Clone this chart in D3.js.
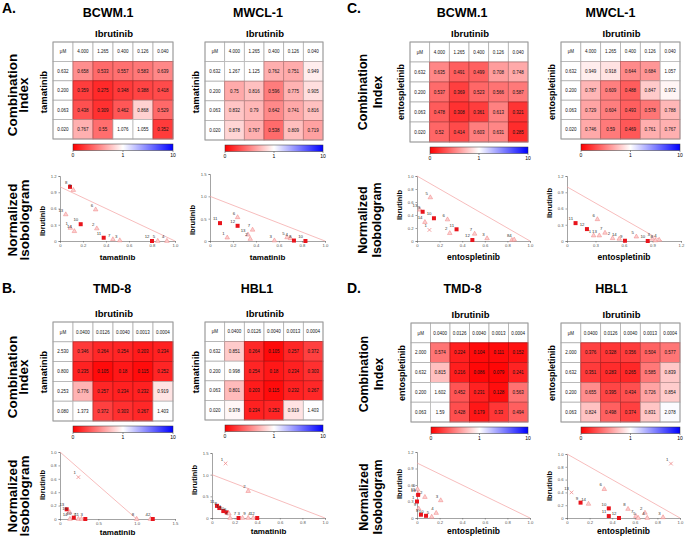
<!DOCTYPE html>
<html><head><meta charset="utf-8">
<script src="https://cdn.jsdelivr.net/npm/d3@7"></script>
<style>body{margin:0;background:#fff}svg{display:block;font-family:"Liberation Sans",Arial,sans-serif}</style>
</head><body>
<svg id="c" width="685" height="538"></svg>
<script>
// ---------- DATA ----------
const ibrColsTop = ["4.000","1.265","0.400","0.126","0.040"];
const ibrColsBot = ["0.0400","0.0126","0.0040","0.0013","0.0004"];
const tamRowsA = ["0.632","0.200","0.063","0.020"];
const entoRowsC = ["0.632","0.200","0.063","0.020"];
const tamRowsB_TMD = ["2.530","0.800","0.253","0.080"];
const tamRowsB_HBL = ["0.632","0.200","0.063","0.020"];
const entoRowsD = ["2.000","0.632","0.200","0.063"];

const ciA_BCWM = [[0.658,0.533,0.557,0.583,0.639],[0.359,0.275,0.348,0.388,0.418],[0.438,0.309,0.462,0.868,0.529],[0.767,0.55,1.076,1.055,0.352]];
const ciA_MWCL = [[1.267,1.125,0.762,0.751,0.949],[0.75,0.816,0.596,0.775,0.905],[0.832,0.79,0.642,0.741,0.816],[0.878,0.767,0.538,0.809,0.719]];
const ciC_BCWM = [[0.635,0.491,0.499,0.708,0.748],[0.537,0.369,0.523,0.566,0.587],[0.478,0.308,0.361,0.613,0.321],[0.52,0.414,0.603,0.631,0.285]];
const ciC_MWCL = [[0.949,0.918,0.644,0.684,1.057],[0.787,0.609,0.488,0.847,0.972],[0.729,0.604,0.493,0.578,0.788],[0.746,0.59,0.469,0.761,0.767]];
const ciB_TMD = [[0.346,0.264,0.254,0.203,0.234],[0.235,0.105,0.18,0.115,0.252],[0.776,0.257,0.234,0.232,0.919],[1.373,0.372,0.303,0.267,1.403]];
const ciB_HBL = [[0.851,0.264,0.105,0.257,0.372],[0.998,0.254,0.18,0.234,0.303],[0.801,0.203,0.115,0.232,0.267],[0.978,0.234,0.252,0.919,1.403]];
const ciD_TMD = [[0.574,0.224,0.104,0.111,0.152],[0.815,0.216,0.086,0.079,0.241],[1.602,0.452,0.231,0.128,0.563],[1.59,0.428,0.179,0.33,0.494]];
const ciD_HBL = [[0.376,0.328,0.356,0.504,0.577],[0.351,0.283,0.265,0.585,0.839],[0.655,0.395,0.434,0.726,0.854],[0.824,0.498,0.374,0.831,2.078]];

const cbarTicks = [0,1,10];

// isobologram points: [label, x, y, type]  type 1=filled square, 0=open triangle, 2=cross
const isoA_BCWM = [["8",0.087,1.0,1],["9",0.116,0.94,0],["6",0.31,0.58,0],["13",0.05,0.49,0],["10",0.18,0.31,1],["1",0.09,0.24,0],["14",0.125,0.18,0],["2",0.32,0.23,0],["11",0.38,0.06,1],["7",0.46,0.03,0],["3",0.52,0.01,0],["12",0.80,0.0,1],["5",0.85,0.0,0],["4",0.93,0.0,0]];
const isoA_MWCL = [["11",0.087,0.40,1],["6",0.24,0.53,0],["12",0.24,0.34,1],["7",0.37,0.25,0],["13",0.33,0.14,0],["1",0.15,0.075,0],["2",0.35,0.045,0],["3",0.56,0.01,0],["5",0.67,0.08,0],["4",0.70,0.06,0],["8",0.73,0.01,1],["10",0.83,0.0,1]];
const isoC_BCWM = [["5",0.118,0.67,0],["13",0.025,0.48,0],["9",0.05,0.45,1],["10",0.15,0.35,1],["6",0.27,0.33,0],["14",0.07,0.29,0],["1",0.11,0.17,2],["2",0.29,0.12,0],["11",0.35,0.18,1],["7",0.51,0.11,0],["12",0.49,0.015,1],["3",0.62,0.04,0],["8",0.84,0.015,0],["4",0.86,0.02,0]];
const isoC_MWCL = [["11",0.09,0.33,1],["6",0.32,0.40,0],["12",0.21,0.22,1],["1",0.28,0.10,0],["13",0.34,0.10,0],["7",0.40,0.15,0],["2",0.48,0.05,0],["14",0.55,0.04,0],["9",0.61,0.005,1],["5",0.73,0.08,0],["10",0.85,0.0,1],["3",0.90,0.04,0],["8",0.93,0.01,0],["4",0.97,0.02,0]];
const isoB_TMD = [["1",0.24,0.625,2],["13",0.087,0.145,1],["16",0.125,0.10,0],["14",0.13,0.0,0],["10",0.18,0.02,1],["7",0.24,0.0,0],["11",0.28,0.0,0],["3",0.33,0.0,1],["8",1.0,0.0,0],["4",1.18,0.0,0],["2",1.21,0.0,1]];
const isoB_HBL = [["1",0.12,1.26,2],["2",0.32,0.62,0],["11",0.044,0.28,1],["8",0.065,0.23,1],["14",0.10,0.16,1],["10",0.13,0.13,1],["6",0.15,0.10,0],["5",0.16,0.0,0],["7",0.235,0.0,1],["3",0.27,0.0,0],["9",0.32,0.0,0],["4",0.365,0.0,0],["12",0.40,0.0,1]];
const isoD_TMD = [["6",0.005,0.52,0],["15",0.01,0.44,0],["16",0.01,0.42,1],["2",0.07,0.38,0],["3",0.21,0.32,0],["1",0.0,0.30,1],["9",0.015,0.17,0],["8",0.035,0.06,1],["10",0.08,0.04,1],["4",0.17,0.09,0],["5",0.13,0.02,0]];
const isoD_HBL = [["1",0.92,0.85,2],["13",0.04,0.40,2],["6",0.33,0.45,0],["9",0.12,0.24,1],["14",0.19,0.22,0],["10",0.37,0.15,1],["11",0.37,0.03,1],["12",0.46,0.0,1],["8",0.54,0.14,0],["7",0.61,0.03,0],["5",0.63,0.0,0],["2",0.69,0.08,0],["4",0.71,0.0,0],["3",0.85,0.01,0]];

// ---------- DRAWING ----------
const svg = d3.select("#c");
const defs = svg.append("defs");
const grad = defs.append("linearGradient").attr("id","cb").attr("x1","0%").attr("x2","100%");
grad.append("stop").attr("offset","0%").attr("stop-color","#ff0000");
grad.append("stop").attr("offset","50%").attr("stop-color","#ffffff");
grad.append("stop").attr("offset","100%").attr("stop-color","#0000ff");

const redW = d3.interpolateRgb("#ff0000","#ffffff");
const whB = d3.interpolateRgb("#ffffff","#0000ff");
const colScale = v => v <= 1 ? redW(Math.pow(Math.max(v,0),1.4)) : whB(Math.pow(Math.min((v-1)/9,1),2));

function txt(x,y,s,size,opts={}){
  const t = svg.append("text").attr("x",x).attr("y",y).text(s)
    .attr("font-size",size).attr("fill",opts.fill||"#000")
    .attr("font-weight",opts.bold?"bold":"normal")
    .attr("text-anchor",opts.anchor||"middle");
  if(opts.rot) t.attr("transform",`rotate(-90,${x},${y})`);
  return t;
}

function drawHeat(x0,y0,W,H,colLab,rowLab,vals,name,nameY,nameDx,rowDrug,drugSize){
  const cx = d3.scaleBand().domain(d3.range(6)).range([x0,x0+W]);
  const cy = d3.scaleBand().domain(d3.range(5)).range([y0,y0+H]);
  const cells=[];
  for(let r=0;r<5;r++)for(let c=0;c<6;c++){
    let s,v=null;
    if(r===0&&c===0) s="μM";
    else if(r===0) s=colLab[c-1];
    else if(c===0) s=rowLab[r-1];
    else {v=vals[r-1][c-1]; s=String(v);}
    cells.push({r,c,s,v});
  }
  const g = svg.append("g");
  g.selectAll("rect").data(cells).join("rect")
    .attr("x",d=>cx(d.c)).attr("y",d=>cy(d.r))
    .attr("width",cx.bandwidth()).attr("height",cy.bandwidth())
    .attr("fill",d=>d.v===null?"#fff":colScale(d.v))
    .attr("stroke",d=>d.v===null?"#b0b0b0":d3.color(colScale(d.v)).darker(0.9).formatHex())
    .attr("stroke-width",0.8);
  g.selectAll("text").data(cells).join("text")
    .attr("x",d=>cx(d.c)+cx.bandwidth()/2).attr("y",d=>cy(d.r)+cy.bandwidth()/2+1.6)
    .attr("text-anchor","middle").attr("font-size",4.5).attr("fill","#111").text(d=>d.s);
  g.append("rect").attr("x",x0).attr("y",y0).attr("width",W).attr("height",H)
    .attr("fill","none").attr("stroke","#999").attr("stroke-width",0.8);
  txt(x0+W/2+nameDx,nameY,name,12.5,{bold:true});
  txt(x0+W/2+1,y0-5.5,"Ibrutinib",9.5,{bold:true});
  txt(x0-6,y0+50,rowDrug,drugSize,{bold:true,rot:true});
  // colorbar
  const cb = d3.scaleLinear().domain([0,1,10]).range([x0+20,x0+20+(W-20)/2,x0+W]);
  svg.append("rect").attr("x",x0+20).attr("y",y0+H+5).attr("width",W-20).attr("height",6.5)
    .attr("fill","url(#cb)").attr("stroke","#333").attr("stroke-width",0.5);
  cbarTicks.forEach(t=>{
    svg.append("line").attr("x1",cb(t)).attr("x2",cb(t)).attr("y1",y0+H+11.5).attr("y2",y0+H+13).attr("stroke","#333").attr("stroke-width",0.5);
    txt(cb(t),y0+H+18,String(t),5);
  });
}

function fmt(v){return v===0?"0":v.toFixed(1);}
function drawIso(ax,ay,W,H,xMax,yMax,xTicks,yTicks,pts,xLab,xLabSize,yLabDy,xLabDy){
  const x = d3.scaleLinear().domain([0,xMax]).range([ax,ax+W]);
  const y = d3.scaleLinear().domain([0,yMax]).range([ay,ay-H]);
  const gx = svg.append("g").attr("transform",`translate(0,${ay})`)
    .call(d3.axisBottom(x).tickValues(xTicks).tickFormat(fmt).tickSize(1.5).tickPadding(2));
  const gy = svg.append("g").attr("transform",`translate(${ax},0)`)
    .call(d3.axisLeft(y).tickValues(yTicks).tickFormat(fmt).tickSize(1.5).tickPadding(2));
  [gx,gy].forEach(g=>{
    g.selectAll("path,line").attr("stroke","#666").attr("stroke-width",0.6);
    g.selectAll("text").attr("font-size",4.2).attr("fill","#555").attr("font-family","Liberation Sans, Arial");
  });
  svg.append("line").attr("x1",x(0)).attr("y1",y(1)).attr("x2",x(1)).attr("y2",y(0))
    .attr("stroke","#f4a0a0").attr("stroke-width",0.7);
  const g = svg.append("g");
  pts.forEach(p=>{
    const px=x(p[1]), py=y(p[2]);
    if(p[3]===1){
      g.append("rect").attr("x",px-2).attr("y",py-2).attr("width",4).attr("height",4).attr("fill","#e8141c");
    } else if(p[3]===2){
      g.append("path").attr("d",`M${px-1.8},${py-1.8}L${px+1.8},${py+1.8}M${px-1.8},${py+1.8}L${px+1.8},${py-1.8}`)
        .attr("stroke","#f08a8a").attr("stroke-width",0.8);
    } else {
      g.append("path").attr("d",d3.symbol(d3.symbolTriangle,9)()).attr("transform",`translate(${px},${py})`)
        .attr("fill","#fbd0d0").attr("stroke","#f08080").attr("stroke-width",0.5);
    }
    g.append("text").attr("x",px-2.5).attr("y",py-2.8).attr("font-size",4.3).attr("fill","#333")
      .attr("text-anchor","end").text(p[0]);
  });
  txt(ax+W/2,ay+xLabDy,xLab,xLabSize,{bold:true});
  txt(ax-15,ay+yLabDy,"Ibrutinib",7.5,{bold:true,rot:true});
}

// panel letters
txt(2,13,"A.",14,{bold:true,anchor:"start"});
txt(347,13,"C.",14,{bold:true,anchor:"start"});
txt(2,293,"B.",14,{bold:true,anchor:"start"});
txt(347,293,"D.",14,{bold:true,anchor:"start"});

// row labels
function rowLabel(x1,x2,cy,l1,l2,size){
  txt(x1,cy,l1,size,{bold:true,rot:true});
  txt(x2,cy,l2,size,{bold:true,rot:true});
}
rowLabel(16.5,28,95,"Combination","Index",13.5);
rowLabel(366.5,381.5,92,"Combination","Index",12.5);
rowLabel(16.5,28,377,"Combination","Index",13.5);
rowLabel(367.5,382.5,374,"Combination","Index",12.5);
rowLabel(16.5,29,220,"Normalized","Isobologram",13.5);
rowLabel(366.5,381,220,"Normalized","Isobologram",12.5);
rowLabel(16.5,29,496,"Normalized","Isobologram",13.5);
rowLabel(367.5,382,497,"Normalized","Isobologram",12.5);

// heatmaps
drawHeat(53,42,120,97,ibrColsTop,tamRowsA,ciA_BCWM,"BCWM.1",16.5,-5,"tamatinib",9.5);
drawHeat(205,42,118,98,ibrColsTop,tamRowsA,ciA_MWCL,"MWCL-1",16.5,-6,"tamatinib",9.5);
drawHeat(410,42,118,100,ibrColsTop,entoRowsC,ciC_BCWM,"BCWM.1",16.5,-7,"entospletinib",9);
drawHeat(561,42,119,97,ibrColsTop,entoRowsC,ciC_MWCL,"MWCL-1",16.5,-10,"entospletinib",9);
drawHeat(53,322,120,99,ibrColsBot,tamRowsB_TMD,ciB_TMD,"TMD-8",292.5,-1,"tamatinib",9.5);
drawHeat(205,322,118,98,ibrColsBot,tamRowsB_HBL,ciB_HBL,"HBL1",292.5,-7,"tamatinib",9.5);
drawHeat(411,323,117,99,ibrColsBot,entoRowsD,ciD_TMD,"TMD-8",292.5,-7,"entospletinib",9);
drawHeat(561,323,119,99,ibrColsBot,entoRowsD,ciD_HBL,"HBL1",292.5,-9,"entospletinib",9);

// isobolograms
const t02=[0,0.2,0.4,0.6,0.8,1.0], t03=[0,0.3,0.6,0.9,1.2], t05=[0,0.5,1.0,1.5];
drawIso(60,241,115,65,1.0,1.2,t02,t03,isoA_BCWM,"tamatinib",8,-20,19);
drawIso(210,241,115,67,1.0,1.5,t02,t05,isoA_MWCL,"tamatinib",8,-21,19);
drawIso(417,241,113,65,1.0,1.0,t02,t02,isoC_BCWM,"entospletinib",8.5,-36,19);
drawIso(567,241,114,65,1.2,1.2,t03,t03,isoC_MWCL,"entospletinib",8.5,-38,19);
drawIso(60,519,115,67,1.5,1.0,t05,t02,isoB_TMD,"tamatinib",8,-34,15.5);
drawIso(212,518,113,65,1.0,1.5,t02,t05,isoB_HBL,"tamatinib",8,-38,16);
drawIso(417,518,113,66,1.0,1.2,t02,t03,isoD_TMD,"entospletinib",8.5,-34,16);
drawIso(567,518,113,64,1.0,1.0,t02,t02,isoD_HBL,"entospletinib",8.5,-32,16);
</script>
</body></html>
